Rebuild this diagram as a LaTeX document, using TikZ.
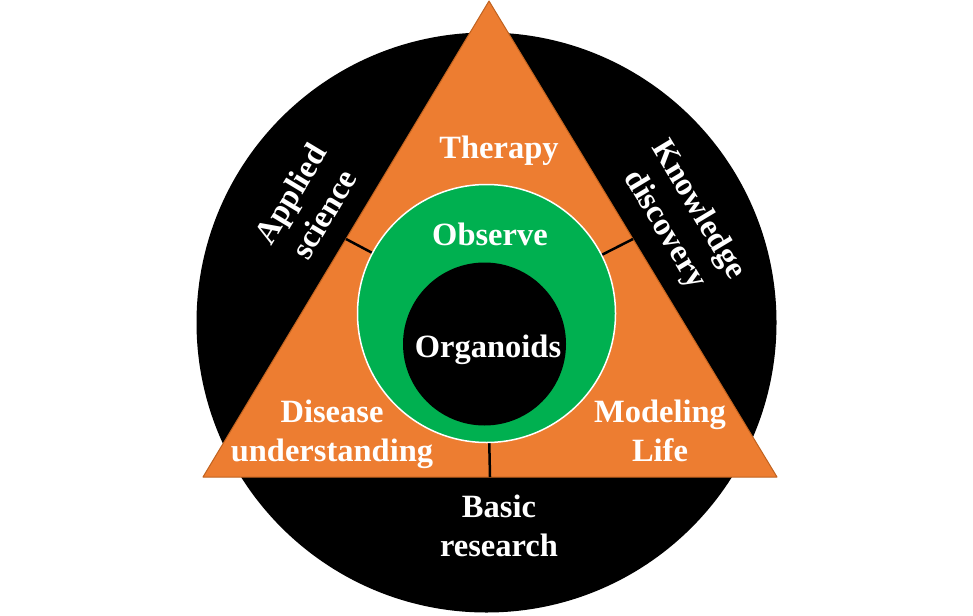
\documentclass[tikz,border=0pt]{standalone}
\usepackage{fontspec}
\setmainfont{Liberation Serif}
\usetikzlibrary{calc}
\definecolor{triorange}{HTML}{ED7D31}
\definecolor{triedge}{HTML}{C0621F}
\definecolor{ringgreen}{HTML}{00B050}
\begin{document}
\begin{tikzpicture}[
    x=1pt,y=-1pt,
    disc/.style={circle,fill=black,inner sep=0pt},
    ring/.style={circle,fill=ringgreen,draw=white,line width=1.5pt,inner sep=0pt},
    tri/.style={fill=triorange,draw=triedge,line width=1pt,line join=round},
    divider/.style={draw=black,line width=2.5pt},
    word/.style={text=white,font=\fontsize{32.5}{39}\selectfont\bfseries,align=center,inner sep=0pt},
]
\useasboundingbox(0,0)rectangle(973,615);
\node[disc,minimum size=580pt](D)at(486.5,322.5){};
\coordinate(A)at(489,1);
\coordinate(L)at(203,477);
\coordinate(R)at(777,477);
\draw[tri](A)--(L)--(R)--cycle;
\coordinate(C)at(486.5,313.5);
\draw[divider]($(A)!0.5!(L)$)--(C);
\draw[divider]($(A)!0.5!(R)$)--(C);
\draw[divider]($(L)!0.5!(R)$)--(C);
\node[ring,minimum size=258pt](E)at(C){};
\node[disc,minimum size=163pt](N)at(484.5,344){};
\node[word,anchor=base](T)at(499,158){Therapy};
\node[word,anchor=base](O)at(490,245){Observe};
\node[word,anchor=base](G)at(488,357){Organoids};
\node[word,anchor=base](U)at(332,461){Disease\\understanding};
\node[word,anchor=base](M)at(660,461){Modeling\\Life};
\node[word,anchor=base](B)at(499,556){Basic\\research};
\node[word,rotate=59](S)at(307,204){Applied\\science};
\node[word,rotate=-59](K)at(681,220){Knowledge\\discovery};
\end{tikzpicture}
\end{document}
